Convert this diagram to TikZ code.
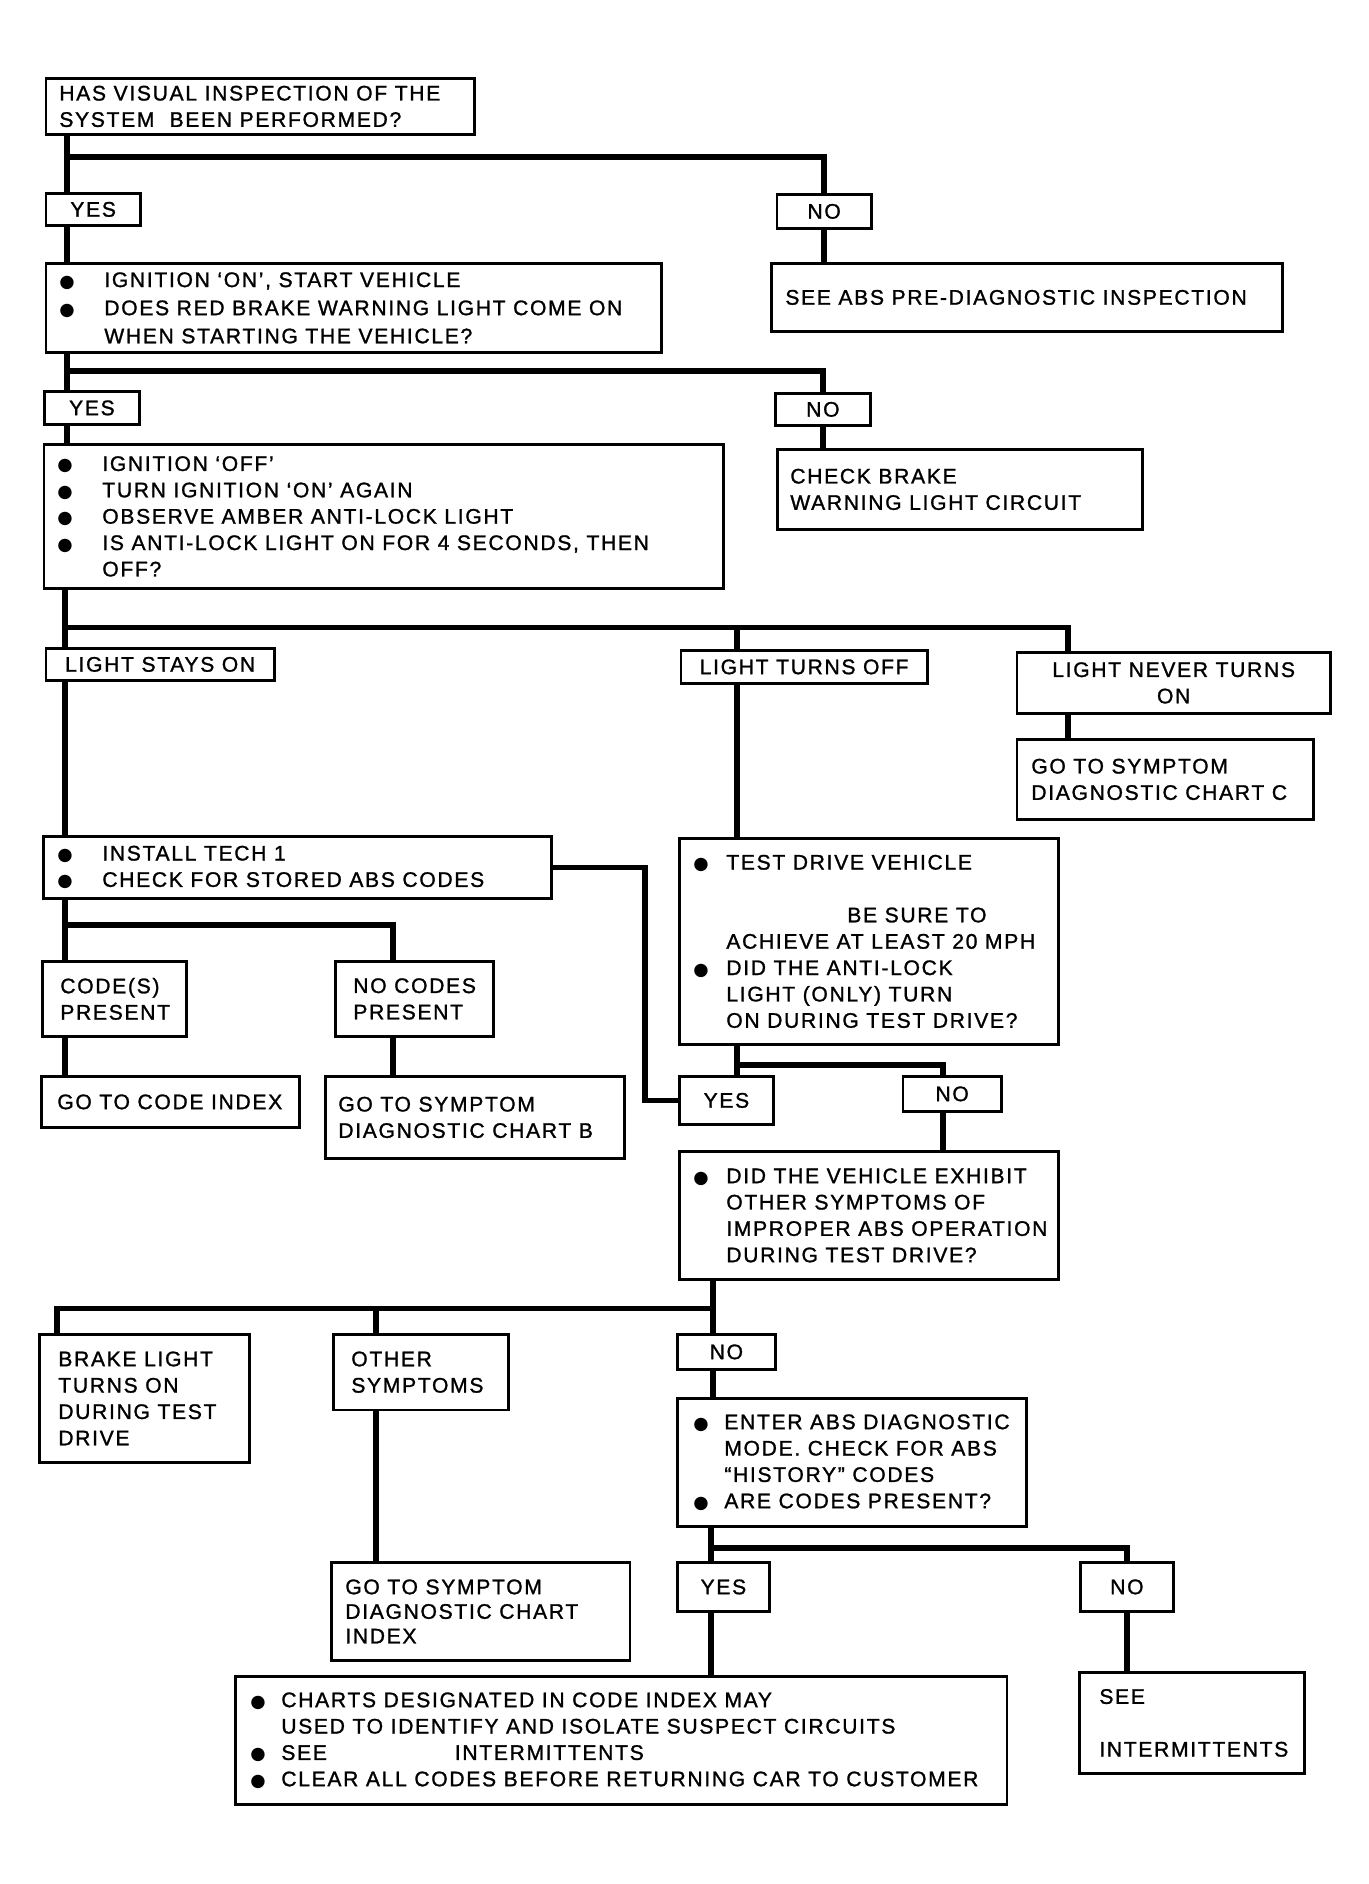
\documentclass[tikz,border=0pt]{standalone}
\usepackage{fontspec}
\setmainfont{Liberation Sans}[LetterSpace=8, FakeBold=1.2]
\newfontfamily\dotfont{DejaVu Sans}
\usetikzlibrary{calc}
\newcommand{\chartfont}{\fontsize{12}{15}\selectfont}
\newcommand{\dotmark}[1][0.9cm]{\makebox[#1][l]{\dotfont\fontsize{10}{15}\selectfont ●}}
\newcommand{\skipdot}[1][0.9cm]{\hspace*{#1}}
\tikzstyle{frame}=[rectangle, draw=black, line width=1.6pt, anchor=north west, inner sep=0pt, align=center, font=\chartfont]
\tikzstyle{note}=[align=left, anchor=west, inner sep=0pt, font=\chartfont]
\tikzstyle{link}=[line width=3.2pt]

\begin{document}
\begin{tikzpicture}
	\useasboundingbox (0,0) rectangle (27.36,-37.68);

	% first question
	\node[frame, minimum width=8.57cm, minimum height=1.12cm] (visual) at (0.89,-1.54) {};
	\node[note] (visualtxt) at ([xshift=0.29cm]visual.west) {HAS VISUAL INSPECTION OF THE\\SYSTEM\ \ BEEN PERFORMED?};
	\node[frame, minimum width=1.89cm, minimum height=0.64cm] (yes1) at (0.89,-3.84) {YES};
	\node[frame, minimum width=1.89cm, minimum height=0.68cm] (no1) at (15.51,-3.86) {NO};
	\node[frame, minimum width=12.31cm, minimum height=1.78cm] (ignition) at (0.89,-5.24) {};
	\node[note] (ignitiontxt) at ([xshift=0.29cm]ignition.west) {\dotmark IGNITION `ON', START VEHICLE\\[1pt]\dotmark DOES RED BRAKE WARNING LIGHT COME ON\\[1pt]\skipdot WHEN STARTING THE VEHICLE?};
	\node[frame, minimum width=10.22cm, minimum height=1.36cm] (seeabs) at (15.40,-5.24) {};
	\node[note] (seeabstxt) at ([xshift=0.30cm]seeabs.west) {SEE ABS PRE-DIAGNOSTIC INSPECTION};

	% brake warning light
	\node[frame, minimum width=1.90cm, minimum height=0.66cm] (yes2) at (0.86,-7.80) {YES};
	\node[frame, minimum width=1.90cm, minimum height=0.64cm] (no2) at (15.48,-7.84) {NO};
	\node[frame, minimum width=13.59cm, minimum height=2.88cm] (amber) at (0.85,-8.86) {};
	\node[note] (ambertxt) at ([xshift=0.29cm]amber.west) {\dotmark IGNITION `OFF'\\\dotmark TURN IGNITION `ON' AGAIN\\\dotmark OBSERVE AMBER ANTI-LOCK LIGHT\\\dotmark IS ANTI-LOCK LIGHT ON FOR 4 SECONDS, THEN\\\skipdot OFF?};
	\node[frame, minimum width=7.30cm, minimum height=1.60cm] (checkbrake) at (15.52,-8.96) {};
	\node[note] (checkbraketxt) at ([xshift=0.28cm]checkbrake.west) {CHECK BRAKE\\WARNING LIGHT CIRCUIT};

	% anti-lock light
	\node[frame, minimum width=4.57cm, minimum height=0.64cm] (stayson) at (0.89,-12.94) {LIGHT STAYS ON};
	\node[frame, minimum width=4.93cm, minimum height=0.66cm] (turnsoff) at (13.59,-12.98) {LIGHT TURNS OFF};
	\node[frame, minimum width=6.27cm, minimum height=1.22cm] (neveron) at (20.31,-13.02) {LIGHT NEVER TURNS\\ON};
	\node[frame, minimum width=5.93cm, minimum height=1.60cm] (chartc) at (20.31,-14.76) {};
	\node[note] (chartctxt) at ([xshift=0.31cm]chartc.west) {GO TO SYMPTOM\\DIAGNOSTIC CHART C};

	% tech 1 and test drive
	\node[frame, minimum width=10.16cm, minimum height=1.24cm] (tech) at (0.84,-16.70) {};
	\node[note] (techtxt) at ([xshift=0.30cm]tech.west) {\dotmark INSTALL TECH 1\\\dotmark CHECK FOR STORED ABS CODES};
	\node[frame, minimum width=7.58cm, minimum height=4.12cm] (testdrive) at (13.56,-16.74) {};
	\node[note] (testdrivetxt) at ([xshift=0.30cm]testdrive.west) {\dotmark[0.66cm]TEST DRIVE VEHICLE\\[15pt]\skipdot[3.08cm]BE SURE TO\\\skipdot[0.66cm]ACHIEVE AT LEAST 20 MPH\\\dotmark[0.66cm]DID THE ANTI-LOCK\\\skipdot[0.66cm]LIGHT (ONLY) TURN\\\skipdot[0.66cm]ON DURING TEST DRIVE?};
	\node[frame, minimum width=2.88cm, minimum height=1.50cm] (codes) at (0.82,-19.20) {};
	\node[note] (codestxt) at ([xshift=0.38cm]codes.west) {CODE(S)\\PRESENT};
	\node[frame, minimum width=3.16cm, minimum height=1.50cm] (nocodes) at (6.68,-19.20) {};
	\node[note] (nocodestxt) at ([xshift=0.38cm]nocodes.west) {NO CODES\\PRESENT};
	\node[frame, minimum width=5.16cm, minimum height=1.02cm] (codeindex) at (0.80,-21.50) {};
	\node[note] (codeindextxt) at ([xshift=0.34cm]codeindex.west) {GO TO CODE INDEX};
	\node[frame, minimum width=5.98cm, minimum height=1.64cm] (chartb) at (6.48,-21.50) {};
	\node[note] (chartbtxt) at ([xshift=0.28cm]chartb.west) {GO TO SYMPTOM\\DIAGNOSTIC CHART B};
	\node[frame, minimum width=1.88cm, minimum height=0.96cm] (yes3) at (13.56,-21.50) {YES};
	\node[frame, minimum width=1.97cm, minimum height=0.70cm] (no3) at (18.03,-21.50) {NO};
	\node[frame, minimum width=7.58cm, minimum height=2.56cm] (exhibit) at (13.56,-23.00) {};
	\node[note] (exhibittxt) at ([xshift=0.30cm]exhibit.west) {\dotmark[0.66cm]DID THE VEHICLE EXHIBIT\\\skipdot[0.66cm]OTHER SYMPTOMS OF\\\skipdot[0.66cm]IMPROPER ABS OPERATION\\\skipdot[0.66cm]DURING TEST DRIVE?};

	% other symptoms
	\node[frame, minimum width=4.20cm, minimum height=2.56cm] (brakelight) at (0.76,-26.66) {};
	\node[note] (brakelighttxt) at ([xshift=0.40cm]brakelight.west) {BRAKE LIGHT\\TURNS ON\\DURING TEST\\DRIVE};
	\node[frame, minimum width=3.50cm, minimum height=1.51cm] (other) at (6.64,-26.66) {};
	\node[note] (othertxt) at ([xshift=0.38cm]other.west) {OTHER\\SYMPTOMS};
	\node[frame, minimum width=1.96cm, minimum height=0.70cm] (no4) at (13.52,-26.66) {NO};
	\node[frame, minimum width=6.98cm, minimum height=2.56cm] (enter) at (13.52,-27.94) {};
	\node[note] (entertxt) at ([xshift=0.34cm]enter.west) {\dotmark[0.62cm]ENTER ABS DIAGNOSTIC\\\skipdot[0.62cm]MODE. CHECK FOR ABS\\\skipdot[0.62cm]``HISTORY'' CODES\\\dotmark[0.62cm]ARE CODES PRESENT?};
	\node[frame, minimum width=5.97cm, minimum height=1.96cm] (chartidx) at (6.60,-31.22) {};
	\node[note] (chartidxtxt) at ([xshift=0.30cm]chartidx.west) {GO TO SYMPTOM\\[-1pt]DIAGNOSTIC CHART\\[-1pt]INDEX};
	\node[frame, minimum width=1.84cm, minimum height=0.98cm] (yes4) at (13.52,-31.22) {YES};
	\node[frame, minimum width=1.86cm, minimum height=0.98cm] (no5) at (21.58,-31.22) {NO};
	\node[frame, minimum width=15.43cm, minimum height=2.56cm] (charts) at (4.68,-33.50) {};
	\node[note] (chartstxt) at ([xshift=0.32cm]charts.west) {\dotmark[0.62cm]CHARTS DESIGNATED IN CODE INDEX MAY\\\skipdot[0.62cm]USED TO IDENTIFY AND ISOLATE SUSPECT CIRCUITS\\\dotmark[0.62cm]\makebox[3.47cm][l]{SEE}INTERMITTENTS\\\dotmark[0.62cm]CLEAR ALL CODES BEFORE RETURNING CAR TO CUSTOMER};
	\node[frame, minimum width=4.50cm, minimum height=2.02cm] (seeint) at (21.56,-33.42) {};
	\node[note] (seeinttxt) at ([xshift=0.42cm]seeint.west) {SEE\\[15pt]INTERMITTENTS};

	% forks
	\coordinate (forkA) at (1.34,-3.14);
	\coordinate (forkB) at (1.34,-7.42);
	\coordinate (forkC) at (1.30,-12.55);
	\coordinate (offline) at (14.74,-12.55);
	\coordinate (neverline) at (21.36,-12.55);
	\coordinate (forkD) at (1.30,-18.50);
	\coordinate (ncline) at (7.86,-18.50);
	\coordinate (forkE) at (14.74,-21.30);
	\coordinate (noline) at (18.86,-21.30);
	\coordinate (forkF) at (14.26,-26.17);
	\coordinate (brakeline) at (1.14,-26.17);
	\coordinate (otherline) at (7.52,-26.17);
	\coordinate (forkG) at (14.22,-30.96);

	\draw[link] (visual.south -| forkA) -- (yes1.north -| forkA);
	\draw[link] (yes1.south -| forkA) -- (ignition.north -| forkA);
	\draw[link] (forkA) -| (no1.north);
	\draw[link] (no1.south) -- (no1.south |- seeabs.north);

	\draw[link] (ignition.south -| forkB) -- (yes2.north -| forkB);
	\draw[link] (yes2.south -| forkB) -- (amber.north -| forkB);
	\draw[link] (forkB) -| (no2.north);
	\draw[link] (no2.south) -- (no2.south |- checkbrake.north);

	\draw[link] (amber.south -| forkC) -- (stayson.north -| forkC);
	\draw[link] (stayson.south -| forkC) -- (tech.north -| forkC);
	\draw[link] (forkC) -- (neverline) -- (neveron.north -| neverline);
	\draw[link] (offline) -- (turnsoff.north -| offline);
	\draw[link] (turnsoff.south -| offline) -- (testdrive.north -| offline);
	\draw[link] (neveron.south -| neverline) -- (chartc.north -| neverline);

	\draw[link] (tech.south -| forkD) -- (codes.north -| forkD);
	\draw[link] (forkD) -- (ncline) -- (nocodes.north -| ncline);
	\draw[link] (codes.south -| forkD) -- (codeindex.north -| forkD);
	\draw[link] (nocodes.south -| ncline) -- (chartb.north -| ncline);
	\draw[link] (tech.east) -| ([xshift=-0.66cm]yes3.west) -- (yes3.west);

	\draw[link] (testdrive.south -| forkE) -- (yes3.north -| forkE);
	\draw[link] (forkE) -- (noline) -- (no3.north -| noline);
	\draw[link] (no3.south -| noline) -- (exhibit.north -| noline);

	\draw[link] (exhibit.south -| forkF) -- (no4.north -| forkF);
	\draw[link] (forkF) -- (brakeline) -- (brakelight.north -| brakeline);
	\draw[link] (otherline) -- (other.north -| otherline);
	\draw[link] (other.south -| otherline) -- (chartidx.north -| otherline);
	\draw[link] (no4.south -| forkF) -- (enter.north -| forkF);

	\draw[link] (enter.south -| forkG) -- (yes4.north -| forkG);
	\draw[link] (forkG) -| (no5.north);
	\draw[link] (yes4.south -| forkG) -- (charts.north -| forkG);
	\draw[link] (no5.south) -- (no5.south |- seeint.north);

\end{tikzpicture}
\end{document}
